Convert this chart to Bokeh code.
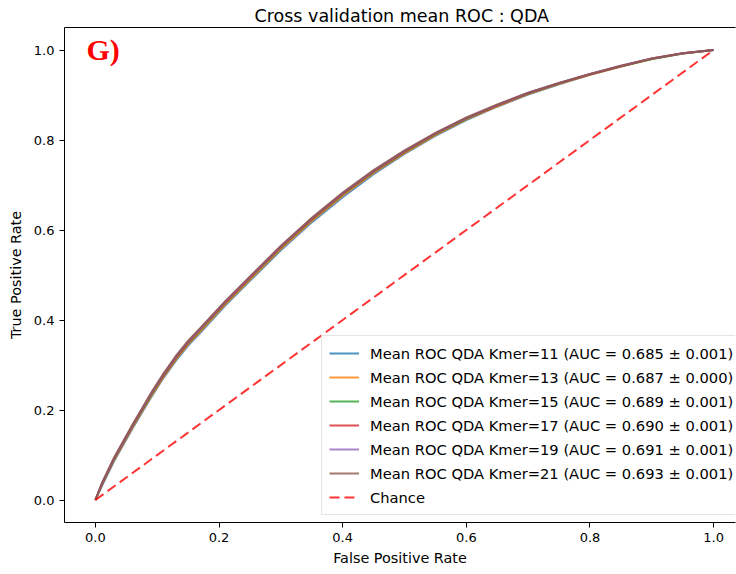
from bokeh.plotting import figure
from bokeh.models import (Range1d, Legend, LegendItem, Label, LinearAxis,
                          FixedTicker, PrintfTickFormatter)
from bokeh.embed import file_html
from bokeh.resources import INLINE

# ---------------- data ----------------
fpr = [0.0, 0.01, 0.03, 0.06, 0.09, 0.11, 0.13, 0.15, 0.17, 0.21, 0.25, 0.30, 0.35, 0.40,
       0.45, 0.50, 0.55, 0.60, 0.65, 0.70, 0.75, 0.80, 0.85, 0.90, 0.95, 1.0]

tpr_k11 = [0, 0.030, 0.086, 0.159, 0.228, 0.271, 0.309, 0.343, 0.372, 0.432, 0.487, 0.555,
           0.617, 0.673, 0.724, 0.769, 0.809, 0.844, 0.874, 0.901, 0.924, 0.945, 0.963,
           0.980, 0.992, 1.0]
tpr_k13 = [0, 0.032, 0.088, 0.161, 0.230, 0.273, 0.312, 0.346, 0.375, 0.435, 0.490, 0.558,
           0.620, 0.676, 0.727, 0.771, 0.811, 0.846, 0.875, 0.902, 0.925, 0.945, 0.963,
           0.980, 0.992, 1.0]
tpr_k15 = [0, 0.033, 0.090, 0.164, 0.233, 0.276, 0.315, 0.349, 0.378, 0.438, 0.493, 0.561,
           0.623, 0.679, 0.729, 0.773, 0.813, 0.847, 0.877, 0.903, 0.926, 0.946, 0.964,
           0.980, 0.992, 1.0]
tpr_k17 = [0, 0.034, 0.091, 0.165, 0.235, 0.277, 0.316, 0.350, 0.380, 0.439, 0.494, 0.562,
           0.624, 0.680, 0.730, 0.774, 0.814, 0.848, 0.877, 0.904, 0.926, 0.946, 0.964,
           0.981, 0.993, 1.0]
tpr_k19 = [0, 0.035, 0.092, 0.166, 0.236, 0.279, 0.318, 0.352, 0.381, 0.441, 0.496, 0.564,
           0.626, 0.682, 0.732, 0.776, 0.815, 0.849, 0.878, 0.905, 0.927, 0.947, 0.965,
           0.981, 0.993, 1.0]
tpr_k21 = [0, 0.036, 0.094, 0.168, 0.238, 0.281, 0.320, 0.354, 0.383, 0.442, 0.497, 0.565,
           0.627, 0.683, 0.733, 0.777, 0.816, 0.850, 0.879, 0.905, 0.927, 0.947, 0.965,
           0.981, 0.993, 1.0]

kmers = [11, 13, 15, 17, 19, 21]
auc_mean = [0.685, 0.687, 0.689, 0.690, 0.691, 0.693]
auc_std = [0.001, 0.000, 0.001, 0.001, 0.001, 0.001]
tpr_series = [tpr_k11, tpr_k13, tpr_k15, tpr_k17, tpr_k19, tpr_k21]
colors = ["#1f77b4", "#ff7f0e", "#2ca02c", "#d62728", "#9467bd", "#8c564b"]

chance_x = [0.0, 1.0]
chance_y = [0.0, 1.0]

ticks = [0.0, 0.2, 0.4, 0.6, 0.8, 1.0]

# ---------------- figure ----------------
FONT = "DejaVu Sans"
p = figure(width=736, height=574, output_backend="svg", toolbar_location=None,
           x_range=Range1d(-0.05, 1.0354), y_range=Range1d(-0.05, 1.05),
           min_border_left=64, min_border_right=1, min_border_top=27,
           min_border_bottom=52, title="Cross validation mean ROC :  QDA")
p.outline_line_color = None
p.grid.visible = False
p.background_fill_color = "white"
p.border_fill_color = "white"

p.title.text_font = FONT
p.title.text_font_size = "17.5px"
p.title.text_font_style = "normal"
p.title.text_color = "#000000"
p.title.align = "left"
p.title.offset = 190
p.title.standoff = 4

for ax in (p.xaxis[0], p.yaxis[0]):
    ax.ticker = FixedTicker(ticks=ticks)
    ax.formatter = PrintfTickFormatter(format="%.1f")
    ax.major_label_text_font = FONT
    ax.major_label_text_font_size = "13px"
    ax.major_label_text_color = "#000000"
    ax.major_tick_in = 0
    ax.major_tick_out = 5
    ax.minor_tick_line_color = None
    ax.axis_line_color = "#000000"
    ax.major_tick_line_color = "#000000"
    ax.axis_label_text_font = FONT
    ax.axis_label_text_font_size = "14.4px"
    ax.axis_label_text_font_style = "normal"
    ax.axis_label_text_color = "#000000"
    ax.major_label_standoff = 5

p.xaxis.axis_label = "False Positive Rate"
p.yaxis.axis_label = "True Positive Rate"
p.xaxis.axis_label_standoff = 5
p.yaxis.axis_label_standoff = 7

top_axis = LinearAxis(ticker=FixedTicker(ticks=[]), major_label_text_font_size="0px",
                      major_tick_out=0, major_tick_in=0, minor_tick_out=0, minor_tick_in=0,
                      major_label_standoff=0, axis_line_color="#000000")
p.add_layout(top_axis, "above")

items = []
for k, m, s, tpr, c in zip(kmers, auc_mean, auc_std, tpr_series, colors):
    r = p.line(fpr, tpr, line_color=c, line_width=2, line_alpha=0.8)
    items.append(LegendItem(label=f"Mean ROC QDA Kmer={k} (AUC = {m:.3f} \u00b1 {s:.3f})",
                            renderers=[r]))

rc = p.line(chance_x, chance_y, line_color="red", line_width=2, line_alpha=0.8,
            line_dash="10 5")
items.append(LegendItem(label="Chance", renderers=[rc]))

legend = Legend(items=items, location=(257, 7))
legend.label_text_font = FONT
legend.label_text_font_size = "14.7px"
legend.label_text_color = "#000000"
legend.glyph_width = 30
legend.glyph_height = 20
legend.label_height = 20
legend.label_standoff = 11
legend.spacing = 4
legend.padding = 7
legend.margin = 0
legend.border_line_color = "#cccccc"
legend.border_line_width = 1
legend.background_fill_alpha = 0.8
p.add_layout(legend, "center")

p.add_layout(Label(x=-0.0144, y=1.001, text="G)", text_color="red",
                   text_font="Liberation Serif", text_font_style="bold",
                   text_font_size="30px", text_baseline="alphabetic"))

open("out.html", "w").write(file_html(p, INLINE))
